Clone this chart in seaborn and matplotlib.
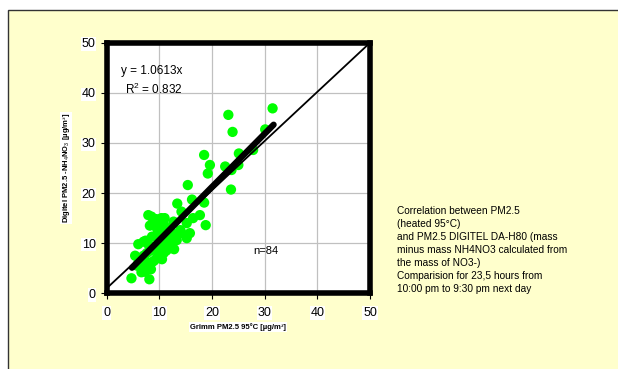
import matplotlib
matplotlib.use("Agg")
import matplotlib.pyplot as plt
import seaborn as sns
import pandas as pd
from matplotlib.patches import Rectangle

# ---- data ----
grimm = [31.5, 23.1, 23.9, 30.1, 18.5, 19.6, 19.2, 22.5, 25.1, 25.0, 23.7, 27.8, 23.6,
         15.4, 16.2, 18.5, 13.4, 14.2, 17.7, 16.4, 18.8, 15.2, 15.8, 15.2, 14.0, 12.7, 11.0,
         4.7, 8.1, 5.4, 7.0, 7.4, 7.9, 8.5, 10.4, 8.8, 8.2, 9.6, 10.1, 9.8, 10.3, 11.0, 11.7,
         12.0, 11.7, 11.3, 10.8, 10.2, 9.5, 9.0, 8.6, 8.0, 7.4, 6.9, 6.6, 7.3, 6.3, 6.0, 5.8,
         6.5, 7.0, 7.6, 8.3, 9.0, 9.5, 10.0, 10.6, 11.2, 12.4, 13.3, 14.2, 12.6, 11.5, 10.8,
         9.2, 8.6, 8.0, 7.2, 12.8, 9.8, 10.5, 8.4, 6.0, 9.4]
digitel = [36.9, 35.6, 32.2, 32.7, 27.6, 25.6, 23.9, 25.3, 27.9, 25.6, 24.6, 28.6, 20.7,
           21.6, 18.7, 18.1, 17.9, 16.3, 15.6, 15.0, 13.6, 14.0, 12.0, 11.0, 12.6, 14.3, 15.0,
           3.0, 2.8, 7.5, 10.3, 10.5, 15.6, 15.3, 15.0, 14.0, 13.5, 12.8, 12.6, 11.5, 11.0, 10.8, 10.0,
           9.0, 9.3, 8.5, 8.0, 7.5, 7.0, 6.5, 6.2, 5.8, 5.2, 4.6, 4.2, 4.3, 6.3, 6.0, 5.5,
           7.0, 7.5, 8.0, 8.5, 9.0, 9.5, 10.0, 9.6, 10.8, 10.5, 10.6, 12.0, 12.0, 13.0, 14.0,
           13.8, 11.3, 9.6, 6.6, 8.8, 8.2, 6.8, 4.8, 9.8, 14.8]
fit_x = [4.8, 31.7]
slope = 1.0613
fit_y = [slope * v for v in fit_x]
ref_x = [0, 49.5]
ref_y = [1.0, 49.5]
ticks = [0, 10, 20, 30, 40, 50]
equation = "y = 1.0613x"
r2_text = "R$^2$ = 0.832"
n_text = "n=84"
side_text = ("Correlation between PM2.5\n(heated 95°C)\nand PM2.5 DIGITEL DA-H80 (mass\n"
             "minus mass NH4NO3 calculated from\nthe mass of NO3-)\n"
             "Comparision for 23,5 hours from\n10:00 pm to 9:30 pm next day")
xlabel = "Grimm PM2.5 95°C [µg/m³]"
ylabel = "Digitel PM2.5 -NH$_4$NO$_3$ [µg/m³]"

df = pd.DataFrame({"grimm": grimm, "digitel": digitel})

sns.set_theme(style="white")
plt.rcParams["font.family"] = ["Liberation Sans", "DejaVu Sans"]
plt.rcParams["mathtext.fontset"] = "custom"
plt.rcParams["mathtext.rm"] = "Liberation Sans"
plt.rcParams["mathtext.it"] = "Liberation Sans"
plt.rcParams["mathtext.bf"] = "Liberation Sans:bold"
plt.rcParams["text.color"] = "black"
plt.rcParams["xtick.color"] = "black"
plt.rcParams["ytick.color"] = "black"

W, H = 618, 369
fig = plt.figure(figsize=(W / 100, H / 100), dpi=100, facecolor="white")
bg = Rectangle((8 / W, -0.05), 1.1, 1 - 10 / H + 0.05, transform=fig.transFigure,
               facecolor="#FFFFCC", edgecolor="#333333", lw=1.0, zorder=-10)
fig.patches.append(bg)

ax = fig.add_axes([106.7 / W, 1 - 293.3 / H, (370 - 106.7) / W, (293.3 - 42.7) / H])
ax.set_zorder(5)
ax.set_facecolor("white")

sns.scatterplot(data=df, x="grimm", y="digitel", ax=ax, color="#00FF00", s=55,
                edgecolor="none", zorder=3, legend=False)
ax.plot(ref_x, ref_y, color="black", lw=1.3, zorder=4)
ax.plot(fit_x, fit_y, color="black", lw=4.5, solid_capstyle="round", zorder=5)

ax.set_xlim(0, 50)
ax.set_ylim(0, 50)
ax.set_xticks(ticks)
ax.set_yticks(ticks)
ax.grid(True, color="#C0C0C0", lw=0.9)
ax.set_axisbelow(True)
for sp in ax.spines.values():
    sp.set_visible(True)
    sp.set_color("black")
    sp.set_linewidth(4)

ax.tick_params(axis="both", direction="out", length=4, width=0.8, color="black",
               labelsize=9, bottom=True, left=True)
ax.tick_params(axis="x", pad=6)
ax.tick_params(axis="y", pad=4)
for lab in ax.get_xticklabels() + ax.get_yticklabels():
    lab.set_bbox(dict(facecolor="white", edgecolor="none", pad=0.5))

ax.set_xlabel("")
ax.set_ylabel("")
fig.text(238 / W, 1 - 327 / H, xlabel, ha="center", va="center", fontsize=5.5,
         fontweight="bold", zorder=6, bbox=dict(facecolor="white", edgecolor="none", pad=0.5))
fig.text(66 / W, 1 - 168 / H, ylabel, ha="center", va="center", rotation=90, fontsize=5.5,
         fontweight="bold", zorder=6, bbox=dict(facecolor="white", edgecolor="none", pad=0.5))

ax.text(2.66, 44.4, equation, fontsize=8.5, ha="left", va="center")
ax.text(3.4, 40.7, r2_text, fontsize=8.5, ha="left", va="center")
ax.text(27.8, 8.5, n_text, fontsize=8, ha="left", va="center")

fig.text(397 / W, 1 - 206 / H, side_text, ha="left", va="top", fontsize=7.3, linespacing=1.38,
         zorder=6)

fig.savefig("out.png", dpi=100, facecolor=fig.get_facecolor())
